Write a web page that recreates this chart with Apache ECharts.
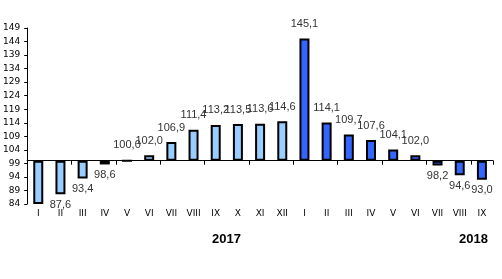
<!DOCTYPE html>
<html><head><meta charset="utf-8">
<script src="https://cdn.jsdelivr.net/npm/echarts@6/dist/echarts.min.js"></script>
<style>html,body{margin:0;padding:0;background:#fff}#c{width:502px;height:279px}</style>
</head><body><div id="c"></div>
<script>
// Data
const categories = ['I','II','III','IV','V','VI','VII','VIII','IX','X','XI','XII',
                    'I','II','III','IV','V','VI','VII','VIII','IX'];
const values = [84.0, 87.6, 93.4, 98.6, 100.0, 102.0, 106.9, 111.4, 113.2, 113.5, 113.6, 114.6,
                145.1, 114.1, 109.7, 107.6, 104.1, 102.0, 98.2, 94.6, 93.0];
const yearOfBar = [2017,2017,2017,2017,2017,2017,2017,2017,2017,2017,2017,2017,
                   2018,2018,2018,2018,2018,2018,2018,2018,2018];
const years = ['2017', '2018'];
const showValueLabel = [false,true,true,true,true,true,true,true,true,true,true,true,
                        true,true,true,true,true,true,true,true,true];
const baseValue = 100;      // bars grow from 100
const axisMin = 84, axisMax = 149, axisStep = 5;

const yearColors = {2017: '#99CCFF', 2018: '#3366FF'};
const fmt = v => v.toFixed(1).replace('.', ',');

const seriesData = values.map((v, i) => {
  const d = v - baseValue;
  return {
    value: d,
    itemStyle: { color: yearColors[yearOfBar[i]] },
    label: {
      show: showValueLabel[i],
      position: d >= 0 ? 'top' : 'bottom',
      distance: d >= 0 ? 9 : 5,
      formatter: () => fmt(v)
    }
  };
});

const chart = echarts.init(document.getElementById('c'), null, {renderer: 'canvas'});
chart.setOption({
  animation: false,
  backgroundColor: '#fff',
  grid: { left: 25, right: 9, top: 28, bottom: 75, containLabel: false },
  xAxis: [
    { type: 'category', data: categories, position: 'bottom',
      axisLine: { show: false, onZero: false }, axisTick: { show: false },
      axisLabel: { fontSize: 9, color: '#000', margin: 5, fontFamily: 'DejaVu Sans' } },
    { type: 'category', data: categories, position: 'bottom',
      axisLine: { show: true, onZero: true, lineStyle: { color: '#000', width: 1 } },
      axisTick: { show: true, length: 4, lineStyle: { color: '#000' } },
      axisLabel: { show: false } }
  ],
  yAxis: {
    type: 'value', min: axisMin - baseValue, max: axisMax - baseValue, interval: axisStep,
    axisLine: { show: true, lineStyle: { color: '#000', width: 1 } },
    axisTick: { show: true, length: 3, lineStyle: { color: '#000' } },
    splitLine: { show: false },
    axisLabel: { fontSize: 9, color: '#000', margin: 7, fontFamily: 'DejaVu Sans',
                 formatter: v => String(Math.round(v + baseValue)) }
  },
  series: [{
    type: 'bar', xAxisIndex: 0, data: seriesData, barWidth: 10,
    itemStyle: { borderColor: '#000', borderWidth: 2 },
    label: { color: '#333', fontSize: 11, fontFamily: 'Liberation Sans' }
  }],
  graphic: [
    { type: 'text', left: 212, top: 233, style: { text: years[0], font: 'bold 13px "Liberation Sans"', fill: '#000' } },
    { type: 'text', left: 459, top: 233, style: { text: years[1], font: 'bold 13px "Liberation Sans"', fill: '#000' } }
  ]
});
</script></body></html>
